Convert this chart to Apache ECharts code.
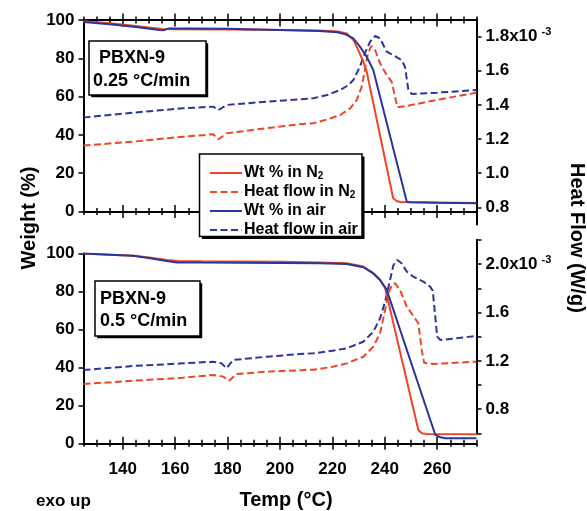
<!DOCTYPE html>
<html><head><meta charset="utf-8">
<script src="https://cdn.jsdelivr.net/npm/echarts@6/dist/echarts.min.js"></script>
<style>html,body{margin:0;padding:0;background:#fff}#c{width:587px;height:511px}</style>
</head><body><div id="c"></div>
<script>
// ---- data: [temperature °C, value] ----
// Top panel: 0.25 °C/min (weight %, heat flow x10^-3 W/g)
const wtN2_slow = [[125,99.3],[135,98.3],[145,96.9],[155,95.3],[160,95.2],[180,95.0],[200,94.8],[215,94.5],[222,94.0],[225.5,93.0],[228,89.6],[229.9,84.3],[231.8,78.2],[233.1,73],[243.2,6.9],[244.5,5.5],[246,5.0],[260,4.7],[275,4.5]];
const wtAir_slow = [[125,99.0],[135,97.8],[145,96.4],[154,94.8],[155.5,94.6],[157.5,95.6],[165,95.6],[180,95.4],[200,94.8],[215,94.3],[222,93.6],[225,92.5],[228,90.4],[230.5,86.1],[233.1,80.8],[235.6,73.9],[248.4,5.1],[249.5,4.8],[260,4.6],[275,4.3]];
const hfN2_slow = [[125,1.162],[144,1.185],[163,1.214],[174.5,1.228],[176.5,1.199],[179.7,1.234],[195,1.264],[207.6,1.287],[212.7,1.293],[218,1.315],[223,1.341],[226.8,1.380],[229.3,1.429],[231.2,1.507],[232.4,1.605],[233.3,1.683],[234.4,1.732],[235,1.745],[236.3,1.722],[238.2,1.644],[240.7,1.575],[242.6,1.536],[243.9,1.448],[244.8,1.386],[248.4,1.394],[260,1.430],[275,1.472]];
const hfAir_slow = [[125,1.326],[144,1.355],[163,1.380],[174.5,1.390],[176.5,1.370],[179.7,1.400],[195,1.419],[207.6,1.433],[212.7,1.439],[218,1.458],[223,1.488],[226,1.515],[228,1.546],[230.5,1.624],[232.4,1.703],[234.4,1.771],[236.3,1.804],[238.2,1.790],[240.7,1.712],[243.2,1.692],[246.4,1.663],[247.7,1.624],[249,1.487],[250.3,1.464],[260,1.472],[275,1.488]];
// Bottom panel: 0.5 °C/min
const wtN2_fast = [[125,100],[135,99.4],[144,98.8],[150,97.9],[157,96.6],[161,96.0],[170,95.9],[185,95.8],[200,95.6],[215,95.3],[225.5,94.9],[231.8,93.1],[235.6,89.7],[238.2,86.2],[240.1,82],[252.8,7.0],[254.1,5.3],[256,4.9],[275,4.8]];
const wtAir_fast = [[125,100],[135,99.4],[144,98.8],[150.4,97.5],[156.8,96.0],[160.6,95.3],[170,95.2],[185,95.1],[200,95.0],[215,94.8],[225.5,94.5],[231.8,92.8],[235.6,89.5],[238.2,86.0],[240.7,81],[259.3,4.4],[261.2,3.2],[263,2.7],[275,2.6]];
const hfN2_fast = [[125,1.008],[144,1.035],[163,1.060],[174.5,1.083],[178.3,1.069],[180.6,1.035],[183.4,1.091],[194.9,1.110],[207.6,1.122],[212.7,1.126],[220,1.150],[225.5,1.179],[231.8,1.234],[235.6,1.317],[238.2,1.428],[240.1,1.621],[241.4,1.759],[242.7,1.828],[243.9,1.842],[245.8,1.786],[248.4,1.648],[251.5,1.552],[252.8,1.511],[254.1,1.290],[255,1.184],[258.6,1.174],[275,1.193]];
const hfAir_fast = [[125,1.124],[144,1.157],[163,1.179],[174.5,1.193],[177.7,1.179],[179.6,1.138],[182.1,1.207],[194.9,1.234],[207.6,1.256],[212.7,1.262],[220,1.283],[225.5,1.304],[231.8,1.358],[235.6,1.441],[238.2,1.552],[240.1,1.689],[242,1.869],[243.3,1.993],[244.8,2.035],[246.4,2.007],[248.4,1.938],[250.9,1.896],[254.7,1.855],[257.3,1.814],[258.3,1.780],[260,1.400],[261.2,1.372],[275,1.405]];

const seriesNames = ['Wt % in N2','Heat flow in N2','Wt % in air','Heat flow in air'];
const xMinorTicks = [125,130,135,140,145,150,155,160,165,170,175,180,185,190,195,200,205,210,215,220,225,230,235,240,245,250,255,260,265,270,275];
const xMajorTicks = [140,160,180,200,220,240,260];
const yLeftTicks = [0,20,40,60,80,100];
const yRightTopTicks = [0.8,1.0,1.2,1.4,1.6,1.8];
const yRightBotTicks = [0.6,0.8,1.0,1.2,1.4,1.6,1.8,2.0,2.2];
const yRightBotLabels = [0.8,1.2,1.6,2.0];

const RED = '#EE4526', BLUE = '#2B359E';
const FONT = 'Liberation Sans, Arial, sans-serif';
const L = 83.5, R = 587 - 476.5;

const grids = [
  {left:L, right:R, top:20, height:191.5},      // top weight
  {left:L, right:R, top:19.6, height:204.8},    // top heat flow
  {left:L, right:R, top:253.5, height:189.8},   // bottom weight
  {left:L, right:R, top:240, height:193.3}      // bottom heat flow
];

const xAxes = [];
function baseX(g, pos) {
  return {type:'value', gridIndex:g, position:pos, min:125, max:275,
    splitLine:{show:false}, axisLabel:{show:false},
    axisLine:{show:false, onZero:false}, axisTick:{show:false}};
}
function addTickAxes(g, pos, labels) {
  const idx = xAxes.length;
  const a = baseX(g, pos);
  a.axisLine = {show:true, onZero:false, lineStyle:{color:'#000', width:2}};
  if (labels) {
    a.axisLabel = {show:true, customValues:xMajorTicks, fontSize:17, fontWeight:'bold', color:'#000', fontFamily:FONT, margin:18};
  }
  xAxes.push(a);
  [[xMinorTicks,3.5,false],[xMinorTicks,3.5,true],[xMajorTicks,6.5,false],[xMajorTicks,6.5,true]].forEach(function(t){
    const b = baseX(g, pos);
    b.axisTick = {show:true, customValues:t[0], length:t[1], inside:t[2], lineStyle:{color:'#000', width:1.5}};
    xAxes.push(b);
  });
  return idx;
}
const xTop = addTickAxes(0, 'bottom', false);
addTickAxes(0, 'top', false);
const xTopHF = xAxes.length; xAxes.push(Object.assign(baseX(1,'bottom'), {show:false}));
const xBot = addTickAxes(2, 'bottom', true);
const xBotHF = xAxes.length; xAxes.push(Object.assign(baseX(3,'bottom'), {show:false}));

const labelStyle = {fontSize:17, fontWeight:'bold', color:'#000', fontFamily:FONT};
const rich = {
  a:{fontSize:17, fontWeight:'bold', color:'#000', fontFamily:FONT, lineHeight:20},
  s:{fontSize:11, fontWeight:'bold', color:'#000', fontFamily:FONT, lineHeight:2, verticalAlign:'top', padding:[0,0,0,4]}
};
function leftY(g) {
  return {type:'value', gridIndex:g, position:'left', min:0, max:100, interval:20,
    splitLine:{show:false},
    axisLine:{show:true, onZero:false, lineStyle:{color:'#000', width:2}},
    axisTick:{show:true, length:5, customValues:yLeftTicks, lineStyle:{color:'#000', width:1.5}},
    axisLabel:Object.assign({margin:9, customValues:yLeftTicks}, labelStyle)};
}
function rightY(g, mn, mx, ticks, labels, topVal) {
  return {type:'value', gridIndex:g, position:'right', min:mn, max:mx,
    splitLine:{show:false},
    axisLine:{show:true, onZero:false, lineStyle:{color:'#000', width:2}},
    axisTick:{show:true, length:5, customValues:ticks, lineStyle:{color:'#000', width:1.5}},
    axisLabel:Object.assign({margin:9, customValues:labels, rich:rich,
      formatter:function(v){ return Math.abs(v-topVal)<1e-6 ? '{a|'+v.toFixed(1)+'x10}{s|-3}' : '{a|'+v.toFixed(1)+'}'; }}, labelStyle)};
}
const yAxes = [
  leftY(0),
  rightY(1, 0.7, 1.9, yRightTopTicks, yRightTopTicks, 1.8),
  leftY(2),
  rightY(3, 0.6, 2.2, yRightBotTicks, yRightBotLabels, 2.0)
];

function ser(name, data, xi, yi, color, dashed) {
  return {type:'line', name:name, data:data, xAxisIndex:xi, yAxisIndex:yi,
    symbol:'none', showSymbol:false, animation:false, clip:true,
    itemStyle:{color:color},
    lineStyle:{color:color, width:2, type: dashed ? [7,3.5] : 'solid'}};
}
const series = [
  ser(seriesNames[1], hfN2_slow, xTopHF, 1, RED, true),
  ser(seriesNames[3], hfAir_slow, xTopHF, 1, BLUE, true),
  ser(seriesNames[0], wtN2_slow, xTop, 0, RED, false),
  ser(seriesNames[2], wtAir_slow, xTop, 0, BLUE, false),
  ser(seriesNames[1], hfN2_fast, xBotHF, 3, RED, true),
  ser(seriesNames[3], hfAir_fast, xBotHF, 3, BLUE, true),
  ser(seriesNames[0], wtN2_fast, xBot, 2, RED, false),
  ser(seriesNames[2], wtAir_fast, xBot, 2, BLUE, false)
];

function boxRects(x, y, w, h, off) {
  return [
    {type:'rect', shape:{x:x+off, y:y+off, width:w, height:h}, style:{fill:'#000'}, z:50},
    {type:'rect', shape:{x:x, y:y, width:w, height:h}, style:{fill:'#fff', stroke:'#000', lineWidth:1.5}, z:51}
  ];
}
function txt(t, x, y, size, opts) {
  return Object.assign({type:'text', x:x, y:y, z:60,
    style:{text:t, fontSize:size, fontWeight:'bold', fontFamily:FONT, fill:'#000', align:'left', verticalAlign:'middle'}}, opts||{});
}
const graphics = [].concat(
  boxRects(89, 41, 117, 54, 2.2),
  boxRects(95, 281, 105, 55, 2.2),
  boxRects(199.5, 154, 162.5, 82.5, 2.5),
  [
    txt('PBXN-9', 99, 58, 18),
    txt('0.25 °C/min', 93, 81, 18),
    txt('PBXN-9', 100, 299, 18),
    txt('0.5 °C/min', 100, 321, 18),
    {type:'text', x:29, y:218, rotation:Math.PI/2, z:60,
      style:{text:'Weight (%)', fontSize:20, fontWeight:'bold', fontFamily:FONT, fill:'#000', align:'center', verticalAlign:'middle'}},
    {type:'text', x:577, y:238, rotation:-Math.PI/2, z:60,
      style:{text:'Heat Flow (W/g)', fontSize:20, fontWeight:'bold', fontFamily:FONT, fill:'#000', align:'center', verticalAlign:'middle'}},
    {type:'text', x:286, y:500, z:60,
      style:{text:'Temp (°C)', fontSize:20, fontWeight:'bold', fontFamily:FONT, fill:'#000', align:'center', verticalAlign:'middle'}},
    txt('exo up', 36, 501, 17)
  ]
);

const chart = echarts.init(document.getElementById('c'), null, {renderer:'canvas'});
chart.setOption({
  animation:false,
  grid:grids,
  xAxis:xAxes,
  yAxis:yAxes,
  series:series,
  legend:{
    orient:'vertical', left:204, top:160, z:80, selectedMode:false,
    itemWidth:32, itemHeight:14, itemGap:3,
    itemStyle:{opacity:0, borderWidth:0},
    data:seriesNames,
    formatter:function(n){ return n.endsWith('N2') ? '{t|'+n.slice(0,-1)+'}{s|2}' : '{t|'+n+'}'; },
    textStyle:{color:'#000', fontSize:16, fontWeight:'bold', fontFamily:FONT, padding:[0,0,0,-3],
      rich:{
        t:{fontSize:16, fontWeight:'bold', fontFamily:FONT, color:'#000', lineHeight:16},
        s:{fontSize:10, fontWeight:'bold', fontFamily:FONT, color:'#000', lineHeight:4, verticalAlign:'bottom'}
      }}
  },
  graphic:graphics
});
</script>
</body></html>
